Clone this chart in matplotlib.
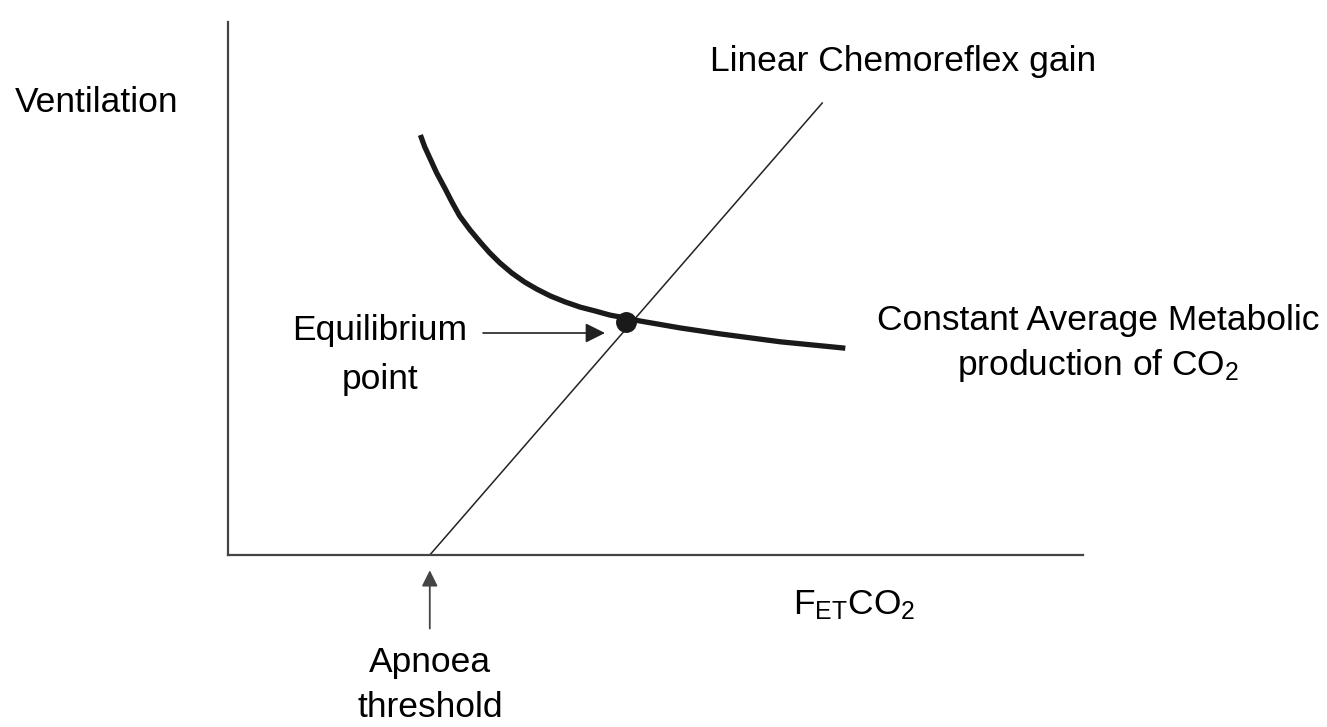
import matplotlib.pyplot as plt

plt.rcParams['font.family'] = ['Liberation Sans', 'DejaVu Sans']
plt.rcParams['mathtext.fontset'] = 'custom'
plt.rcParams['mathtext.rm'] = 'Liberation Sans'
plt.rcParams['mathtext.it'] = 'Liberation Sans'

# arbitrary units (FETCO2 0..10, ventilation 0..10)
apnoea_threshold = 2.36
chemo_end = (6.95, 8.48)

metabolic_x = [2.25, 2.30, 2.36, 2.44, 2.54, 2.62, 2.71, 2.83, 2.95, 3.06,
               3.18, 3.32, 3.47, 3.61, 3.77, 3.94, 4.12, 4.29, 4.47, 4.64,
               4.82, 5.29, 5.75, 6.46, 7.22]
metabolic_y = [7.88, 7.66, 7.45, 7.17, 6.87, 6.62, 6.36, 6.10, 5.87, 5.67,
               5.48, 5.29, 5.12, 4.99, 4.86, 4.75, 4.65, 4.58, 4.50, 4.45,
               4.39, 4.26, 4.15, 4.00, 3.88]

equilibrium = (4.66, 4.37)

W, H = 1327, 727
fig = plt.figure(figsize=(W / 100, H / 100), dpi=100)
ax = fig.add_axes([228 / W, (H - 555) / H, 855 / W, 533 / H])
ax.set_xlim(0, 10)
ax.set_ylim(0, 10)
ax.set_xticks([])
ax.set_yticks([])
for side in ("top", "right"):
    ax.spines[side].set_visible(False)
for side in ("left", "bottom"):
    ax.spines[side].set_color("#444444")
    ax.spines[side].set_linewidth(1.6)

# chemoreflex line
ax.plot([apnoea_threshold, chemo_end[0]], [0, chemo_end[1]],
        color="#222222", lw=1.1, clip_on=False)
# metabolic CO2 curve
ax.plot(metabolic_x, metabolic_y, color="#1a1a1a", lw=3.8,
        solid_capstyle="butt", solid_joinstyle="round", clip_on=False)
ax.plot(*equilibrium, "o", color="#1a1a1a", ms=14, zorder=5, clip_on=False)

fs = 25.5
fig.text(15 / W, 1 - 103 / H, "Ventilation", fontsize=fs, ha="left", va="center")
fig.text(903 / W, 1 - 62 / H, "Linear Chemoreflex gain", fontsize=fs,
         ha="center", va="center")
fig.text(380 / W, 1 - 355 / H, "Equilibrium\npoint", fontsize=fs,
         ha="center", va="center", linespacing=1.6)
fig.text(1098 / W, 1 - 344 / H,
         "Constant Average Metabolic\nproduction of CO$_\\mathregular{2}$",
         fontsize=fs, ha="center", va="center", linespacing=1.35)
fig.text(854 / W, 1 - 605 / H, "F$_\\mathregular{ET}$CO$_\\mathregular{2}$",
         fontsize=fs, ha="center", va="center")
fig.text(430 / W, 1 - 685 / H, "Apnoea\nthreshold", fontsize=fs,
         ha="center", va="center", linespacing=1.45)

# equilibrium arrow
ax.annotate("", xy=(605, H - 333), xytext=(483, H - 333),
            xycoords="figure pixels", textcoords="figure pixels",
            arrowprops=dict(arrowstyle="-|>", color="#222222", lw=1.2,
                            mutation_scale=30, shrinkA=0, shrinkB=0))
# apnoea arrow
ax.annotate("", xy=(apnoea_threshold, 0), xytext=(apnoea_threshold, -1.38),
            xycoords="data", textcoords="data",
            arrowprops=dict(arrowstyle="-|>", color="#444444", lw=1.3,
                            mutation_scale=24, shrinkA=0, shrinkB=11))

fig.savefig("out.png", dpi=100)
